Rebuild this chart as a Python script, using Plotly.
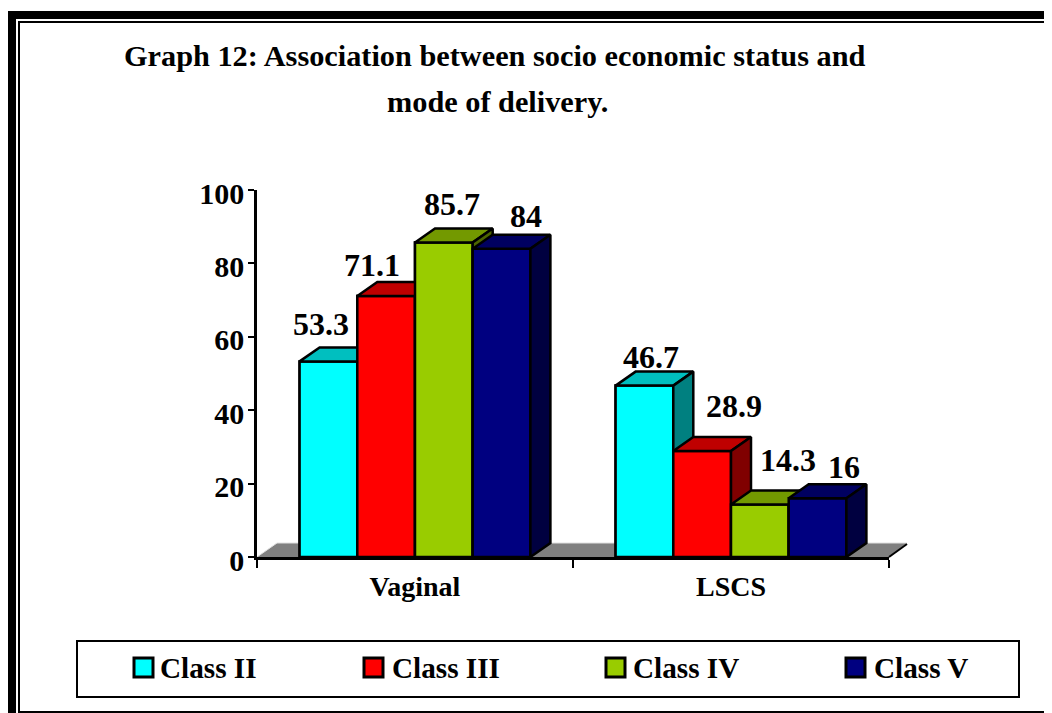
import plotly.graph_objects as go

categories = ["Vaginal", "LSCS"]
series_names = ["Class II", "Class III", "Class IV", "Class V"]
class_ii = [53.3, 46.7]
class_iii = [71.1, 28.9]
class_iv = [85.7, 14.3]
class_v = [84, 16]
series_values = [class_ii, class_iii, class_iv, class_v]
y_ticks = [0, 20, 40, 60, 80, 100]

FRONT = ["#00FFFF", "#FF0000", "#99CC00", "#000080"]
TOP = ["#00BFBF", "#BF0000", "#739900", "#000060"]
SIDE = ["#008080", "#800000", "#4D6600", "#000040"]
FONT = "Liberation Serif"

# the page has an 8 px body margin, so the figure starts at (8, 8)
PAGE = 8
W, H = 1052 - PAGE, 713 - PAGE
L, R, T, B = 257 - PAGE, 889 - PAGE, 190 - PAGE, 557 - PAGE
PW, PH = R - L, B - T
X_PER_PX = 2 / PW
Y_PER_PX = 100 / PH
DX = 20 * X_PER_PX
DY = 14 * Y_PER_PX
BAR_W = 57.7 / (PW / 2)
xpos = list(range(len(categories)))
LW = 2.5


def px(p):
    return (p - PAGE - L) / PW


def py(p):
    return (B - (p - PAGE)) / PH


fig = go.Figure()

for s, name in enumerate(series_names):
    fig.add_bar(x=xpos, y=series_values[s], name=name, marker_color=FRONT[s],
                marker_line_color="black", marker_line_width=LW, showlegend=False)


def poly(xs, ys, color, line="black", lw=LW):
    fig.add_scatter(x=xs, y=ys, mode="lines", fill="toself", fillcolor=color,
                    line=dict(color=line, width=lw), showlegend=False,
                    hoverinfo="skip", cliponaxis=False)


# 3-D faces, painted left to right so later bars overlap earlier ones
x0, x1 = -0.5, 1.5
for c in xpos:
    for s in range(len(series_names)):
        v = series_values[s][c]
        a = c + (s - 2) * BAR_W
        b = a + BAR_W
        poly([a, b, b, a, a], [0, 0, v, v, 0], FRONT[s])
        poly([a, b, b + DX, a + DX, a], [v, v, v + DY, v + DY, v], TOP[s])
        poly([b, b + DX, b + DX, b, b], [0, DY, v + DY, v, 0], SIDE[s])

label_shift = [[(-7, 37), (7, 29)], [(-14, 31), (32, 45)], [(8, 38), (28, 45)], [(24, 33), (26, 31)]]
annotations = []
for s in range(len(series_names)):
    for c in xpos:
        v = series_values[s][c]
        annotations.append(dict(x=c + (s - 1.5) * BAR_W, y=v, xref="x", yref="y", text=f"<b>{v:g}</b>",
                                showarrow=False, xanchor="center", yanchor="middle",
                                xshift=label_shift[s][c][0], yshift=label_shift[s][c][1],
                                font=dict(family=FONT, size=32, color="black")))

for txt, cx, cy in [("Graph 12: Association between socio economic status and", 495, 56),
                    ("mode of delivery.", 497, 102)]:
    annotations.append(dict(x=px(cx), y=py(cy), xref="paper", yref="paper", text=f"<b>{txt}</b>",
                            showarrow=False, xanchor="center", yanchor="middle",
                            font=dict(family=FONT, size=30.3, color="black")))


def rect(a, b, c, d, fill="black", line=None, lw=2, layer="above"):
    return dict(type="rect", xref="paper", yref="paper", x0=px(a), x1=px(c), y0=py(b), y1=py(d),
                fillcolor=fill, line=dict(color=line or "rgba(0,0,0,0)", width=lw if line else 0), layer=layer)


def seg(a, b, c, d, color, width):
    return dict(type="line", xref="paper", yref="paper", x0=px(a), x1=px(c), y0=py(b), y1=py(d),
                line=dict(color=color, width=width), layer="below")


shapes = [rect(8, 11, 1052, 19), rect(8, 11, 16, 713), rect(18, 21, 1052, 23),
          rect(18, 21, 20, 713), rect(18, 711, 1052, 713),
          rect(77, 641, 1019, 697, fill="white", line="black")]

shapes.append(dict(type="path", xref="paper", yref="paper", layer="below",
                   path=f"M{px(257)},{py(557)} L{px(277)},{py(543)} L{px(907)},{py(543)} L{px(889)},{py(557)} Z",
                   fillcolor="#808080", line=dict(width=0, color="rgba(0,0,0,0)")))
shapes.append(seg(257, 557, 277, 543, "#E0E0E0", 1))
shapes.append(seg(277, 543, 907, 543, "#E0E0E0", 1))
shapes.append(seg(889, 557, 907, 544, "black", 2))

swatch_x = [134, 364, 606, 846]
text_x = [160, 392, 633, 874]
for s, name in enumerate(series_names):
    shapes.append(rect(swatch_x[s], 658, swatch_x[s] + 19, 677, fill=FRONT[s], line="black", lw=3))
    annotations.append(dict(x=px(text_x[s]), y=py(668), xref="paper", yref="paper", text=f"<b>{name}</b>",
                            showarrow=False, xanchor="left", yanchor="middle", xshift=-2,
                            font=dict(family=FONT, size=29.2, color="black")))

fig.update_layout(
    width=W, height=H, autosize=False,
    margin=dict(l=L, r=W - R, t=T, b=H - B, pad=0),
    paper_bgcolor="white", plot_bgcolor="rgba(0,0,0,0)",
    barmode="group", bargap=1 - 4 * BAR_W, bargroupgap=0,
    showlegend=False, annotations=annotations, shapes=shapes,
    font=dict(family=FONT, color="black"),
)
fig.update_xaxes(range=[x0, x1], tickmode="array", tickvals=xpos,
                 ticktext=[f"<b>{c}</b>" for c in categories], ticks="", ticklen=0,
                 tickfont=dict(family=FONT, size=28, color="black"), showgrid=False, zeroline=False,
                 showline=True, linecolor="black", linewidth=2.5, ticklabelstandoff=3,
                 minor=dict(tickmode="array", tickvals=[-0.5, 0.5, 1.5], ticks="outside", ticklen=8,
                            tickwidth=2, tickcolor="black", showgrid=False))
fig.update_yaxes(range=[0, 100], tickmode="array", tickvals=y_ticks,
                 ticktext=[f"<b>{t}</b>" for t in y_ticks], ticks="outside", ticklen=6, tickwidth=2,
                 tickcolor="black", tickfont=dict(family=FONT, size=30, color="black"), ticklabelshift=3,
                 ticklabelstandoff=-2,
                 showgrid=False, zeroline=False, showline=True, linecolor="black", linewidth=2.5)

fig.write_html("out.html")
